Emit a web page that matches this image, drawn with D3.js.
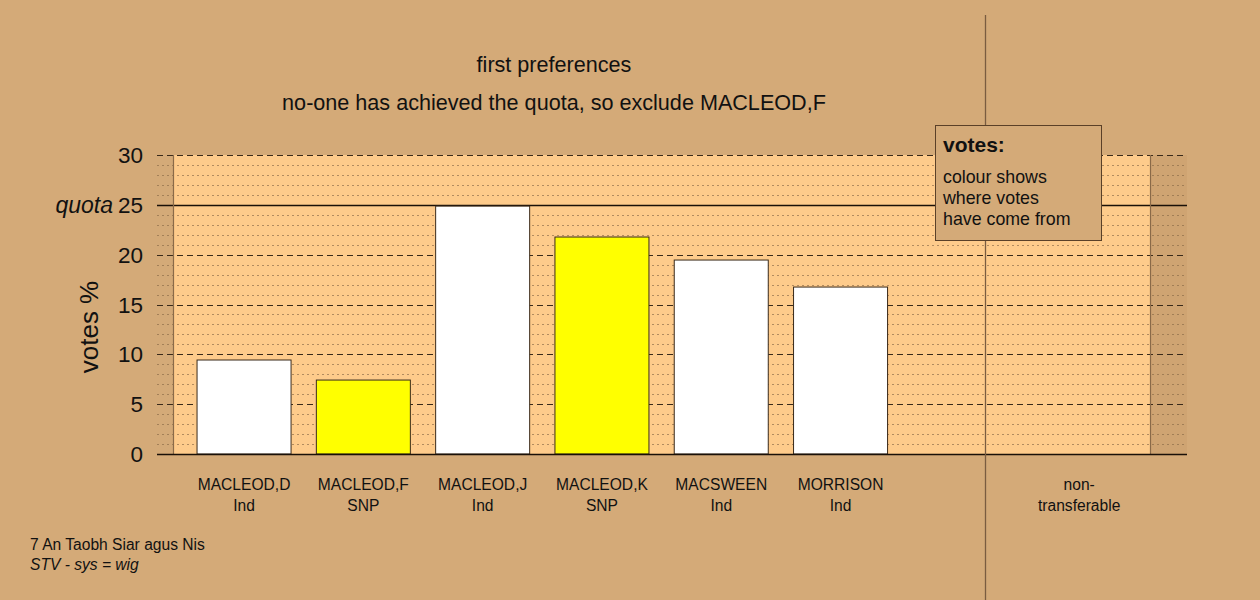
<!DOCTYPE html>
<html><head><meta charset="utf-8">
<script src="https://cdn.jsdelivr.net/npm/d3@7"></script>
<style>body{margin:0;background:#d4aa78;} svg{display:block;font-family:"Liberation Sans",Arial,sans-serif;}</style>
</head><body><svg id="c" width="1260" height="600"></svg>
<script>
const candidates = ["MACLEOD,D","MACLEOD,F","MACLEOD,J","MACLEOD,K","MACSWEEN","MORRISON","","non-transferable"];
const parties = ["Ind","SNP","Ind","SNP","Ind","Ind","",""];
const votes = [9.43, 7.42, 24.87, 21.77, 19.46, 16.75, null, 0];
const barColors = ["#ffffff","#ffff00","#ffffff","#ffff00","#ffffff","#ffffff",null,"#ffffff"];
const yTicks = [0,5,10,15,20,25,30];
const quota = 25;
const titleLines = ["first preferences","no-one has achieved the quota, so exclude MACLEOD,F"];
const legendLines = ["colour shows","where votes","have come from"];
const footer = ["7 An Taobh Siar agus Nis","STV - sys = wig"];

const svg = d3.select("#c");
const y = d3.scaleLinear().domain([0,30]).range([454,155]);
const x = d3.scaleBand().domain(d3.range(candidates.length)).range([184.4,1138.8]).paddingInner(0.212).paddingOuter(0.106);

// darker strip at right
svg.append("rect").attr("x",1150).attr("y",y(30)).attr("width",37).attr("height",y(0)-y(30)).attr("fill","#cfa472");
// panel
svg.append("rect").attr("x",173).attr("y",y(30)).attr("width",977).attr("height",y(0)-y(30)).attr("fill","#fecb8b");

// minor gridlines
const minor = d3.range(1,30).filter(v=>v%5!==0);
svg.selectAll(".minor").data(minor).join("line")
  .attr("x1",157).attr("x2",1187).attr("y1",d=>Math.round(y(d))+0.5).attr("y2",d=>Math.round(y(d))+0.5)
  .attr("stroke","#8a6a48").attr("stroke-width",1).attr("stroke-dasharray","2,3").attr("opacity",0.65);
// major gridlines
svg.selectAll(".major").data(yTicks.filter(v=>v>0 && v!==quota)).join("line")
  .attr("x1",157).attr("x2",1187).attr("y1",d=>Math.round(y(d))+0.5).attr("y2",d=>Math.round(y(d))+0.5)
  .attr("stroke","#3a2a1a").attr("stroke-width",1).attr("stroke-dasharray","6,4");
// quota line
svg.append("line").attr("x1",157).attr("x2",1187).attr("y1",Math.round(y(quota))+0.5).attr("y2",Math.round(y(quota))+0.5)
  .attr("stroke","#1a1008").attr("stroke-width",1.5);

// panel side lines
[173,1150].forEach(xx=>svg.append("line").attr("x1",xx+0.5).attr("x2",xx+0.5).attr("y1",y(30)).attr("y2",y(0))
  .attr("stroke","#8a6a48").attr("stroke-width",1.2));

// bars
const barData = votes.map((v,i)=>({v,i})).filter(d=>d.v!==null && d.v>0);
svg.selectAll(".bar").data(barData).join("rect")
  .attr("x",d=>x(d.i)).attr("width",x.bandwidth())
  .attr("y",d=>y(d.v)).attr("height",d=>y(0)-y(d.v))
  .attr("fill",d=>barColors[d.i]).attr("stroke","#3a2a1a").attr("stroke-width",1);

// x axis baseline
svg.append("line").attr("x1",157).attr("x2",1187).attr("y1",454.5).attr("y2",454.5).attr("stroke","#1a1008").attr("stroke-width",1.5);

// vertical divider
svg.append("line").attr("x1",985.5).attr("x2",985.5).attr("y1",15).attr("y2",600).attr("stroke","#7a5c40").attr("stroke-width",1.3);

// y tick labels
svg.selectAll(".yt").data(yTicks).join("text")
  .attr("x",143).attr("y",d=>y(d)).attr("dy","0.36em").attr("text-anchor","end")
  .attr("font-size",22.5).attr("fill","#111").text(d=>d);
svg.append("text").attr("x",113).attr("y",y(quota)).attr("dy","0.36em").attr("text-anchor","end")
  .attr("font-size",23).attr("font-style","italic").attr("fill","#111").text("quota");
svg.append("text").attr("transform","translate(98,327) rotate(-90)").attr("text-anchor","middle")
  .attr("font-size",26).attr("fill","#111").text("votes %");

// category labels
const catFont = 15.6;
candidates.forEach((c,i)=>{
  if(!c) return;
  const cx = x(i)+x.bandwidth()/2;
  const l1 = c==="non-transferable" ? "non-" : c;
  const l2 = c==="non-transferable" ? "transferable" : parties[i];
  svg.append("text").attr("x",cx).attr("y",490).attr("text-anchor","middle").attr("font-size",catFont).attr("fill","#111").text(l1);
  svg.append("text").attr("x",cx).attr("y",511).attr("text-anchor","middle").attr("font-size",catFont).attr("fill","#111").text(l2);
});

// titles
svg.append("text").attr("x",554).attr("y",72).attr("text-anchor","middle").attr("font-size",21.6).attr("fill","#111").text(titleLines[0]);
svg.append("text").attr("x",554).attr("y",110).attr("text-anchor","middle").attr("font-size",21.6).attr("fill","#111").text(titleLines[1]);

// legend
svg.append("rect").attr("x",935.5).attr("y",125.5).attr("width",166).attr("height",115).attr("fill","#d4aa78").attr("stroke","#5a4028").attr("stroke-width",1);
svg.append("text").attr("x",943).attr("y",152).attr("font-size",21).attr("font-weight","bold").attr("fill","#111").text("votes:");
legendLines.forEach((t,i)=>svg.append("text").attr("x",943).attr("y",183+i*21).attr("font-size",17.8).attr("fill","#111").text(t));

// footer
svg.append("text").attr("x",30).attr("y",550).attr("font-size",15.6).attr("fill","#111").text(footer[0]);
svg.append("text").attr("x",30).attr("y",570).attr("font-size",15.6).attr("font-style","italic").attr("fill","#111").text(footer[1]);
</script></body></html>
